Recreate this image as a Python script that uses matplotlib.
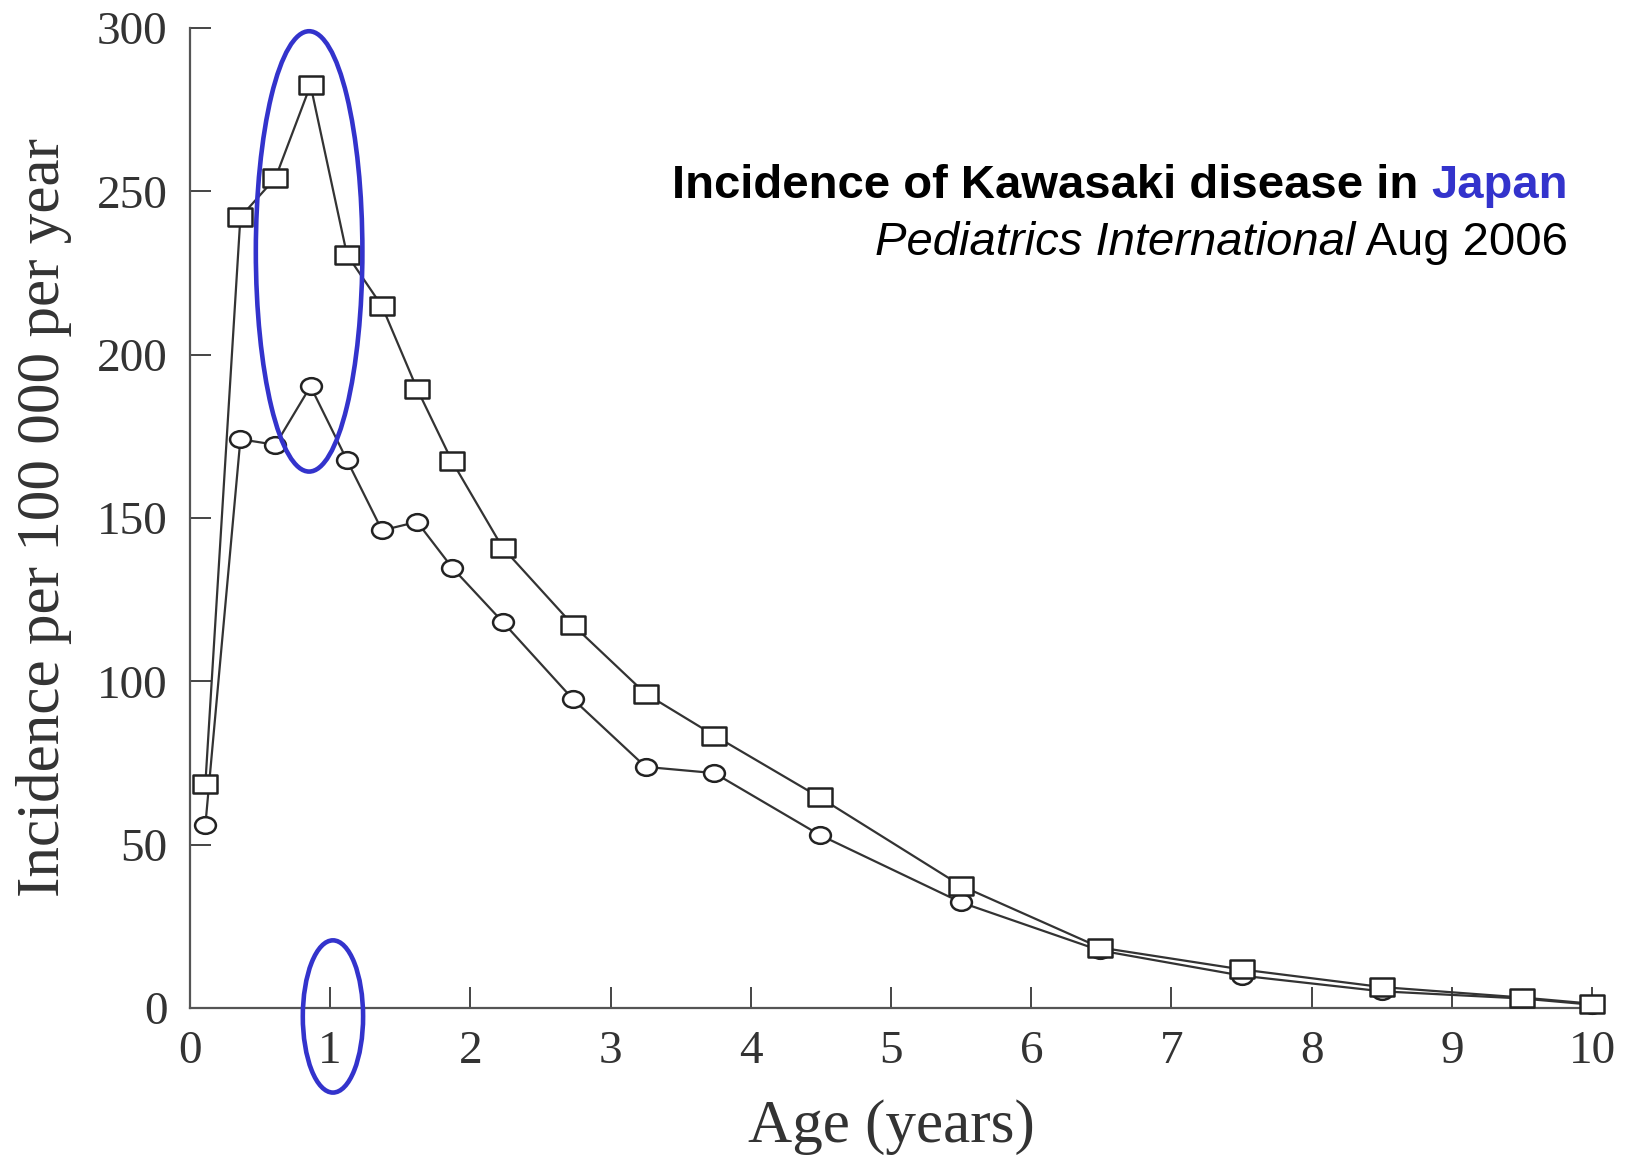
import matplotlib.pyplot as plt
from matplotlib.patches import Ellipse
from matplotlib.path import Path
from matplotlib.transforms import Affine2D

# age in years, incidence per 100 000 per year
age = [0.11, 0.36, 0.61, 0.86, 1.12, 1.37, 1.62, 1.87, 2.23, 2.73,
       3.25, 3.74, 4.49, 5.5, 6.49, 7.5, 8.5, 9.5, 10.0]
squares = [68.5, 242.1, 254.1, 282.5, 230.6, 214.8, 189.5, 167.3, 140.9, 117.3,
           96.2, 83.4, 64.5, 37.4, 18.5, 11.8, 6.4, 3.2, 1.3]
circles = [55.9, 174.1, 172.4, 190.3, 167.7, 146.2, 148.8, 134.8, 118.2, 94.6,
           73.8, 71.9, 53.0, 32.3, 17.6, 9.9, 5.1, 2.9, 1.0]

xticks = list(range(0, 11))
yticks = [0, 50, 100, 150, 200, 250, 300]

title_main = "Incidence of Kawasaki disease in "
title_hl = "Japan"
src_journal = "Pediatrics International"
src_date = " Aug 2006"

blue = "#3333cc"
ink = "#333333"
sans = "Liberation Sans"
serif = "Liberation Serif"

fig = plt.figure(figsize=(16.33, 11.55), dpi=100)
ax = fig.add_axes([0.1163, 0.1273, 0.8587, 0.8485])

sq = Affine2D().scale(1.35, 1.0).transform_path(Path.unit_rectangle().transformed(Affine2D().translate(-0.5, -0.5)))
ci = Affine2D().scale(1.25, 1.0).transform_path(Path.unit_circle())

ax.plot(age, circles, color=ink, lw=1.6, marker=ci, ms=15, mfc="white",
        mec="#222222", mew=1.8, clip_on=False, zorder=3)
ax.plot(age, squares, color=ink, lw=1.6, marker=sq, ms=17, mfc="white",
        mec="#222222", mew=1.8, clip_on=False, zorder=4)

ax.set_xlim(0, 10)
ax.set_ylim(0, 300)
ax.set_xticks(xticks)
ax.set_yticks(yticks)
for s in ["top", "right"]:
    ax.spines[s].set_visible(False)
for s in ["left", "bottom"]:
    ax.spines[s].set_color("#555555")
    ax.spines[s].set_linewidth(1.6)
ax.tick_params(direction="in", length=15, width=1.4, color="#444444",
               labelsize=34, labelcolor=ink, pad=16)
for lab in ax.get_xticklabels() + ax.get_yticklabels():
    lab.set_family(serif)

ax.set_xlabel("Age (years)", family=serif, fontsize=44,
              color=ink, labelpad=19)
ax.set_ylabel("Incidence per 100 000 per year", family=serif,
              fontsize=44, color=ink, labelpad=18)

# highlight ellipses
ax.add_patch(Ellipse((0.85, 231.6), 0.76, 134.8, fill=False, ec=blue, lw=3.3,
                     clip_on=False, zorder=5))
ax.add_patch(Ellipse((1.02, -2.6), 0.43, 46.6, fill=False, ec=blue, lw=3.3,
                     clip_on=False, zorder=5))

# title block, right aligned
fig.canvas.draw()
r = fig.canvas.get_renderer()
xr = 1568
t1 = fig.text(xr, 1155 - 198, title_hl, transform=None, ha="right", va="baseline",
              family=sans, weight="bold", fontsize=34, color=blue)
x1 = t1.get_window_extent(r).x0
fig.text(x1, 1155 - 198, title_main, transform=None, ha="right", va="baseline",
         family=sans, weight="bold", fontsize=34, color="black")
t2 = fig.text(xr, 1155 - 255, src_date, transform=None, ha="right", va="baseline",
              family=sans, fontsize=34, color="black")
x2 = t2.get_window_extent(r).x0
fig.text(x2, 1155 - 255, src_journal, transform=None, ha="right", va="baseline",
         family=sans, style="italic", fontsize=34, color="black")

fig.savefig("out.png", dpi=100)
